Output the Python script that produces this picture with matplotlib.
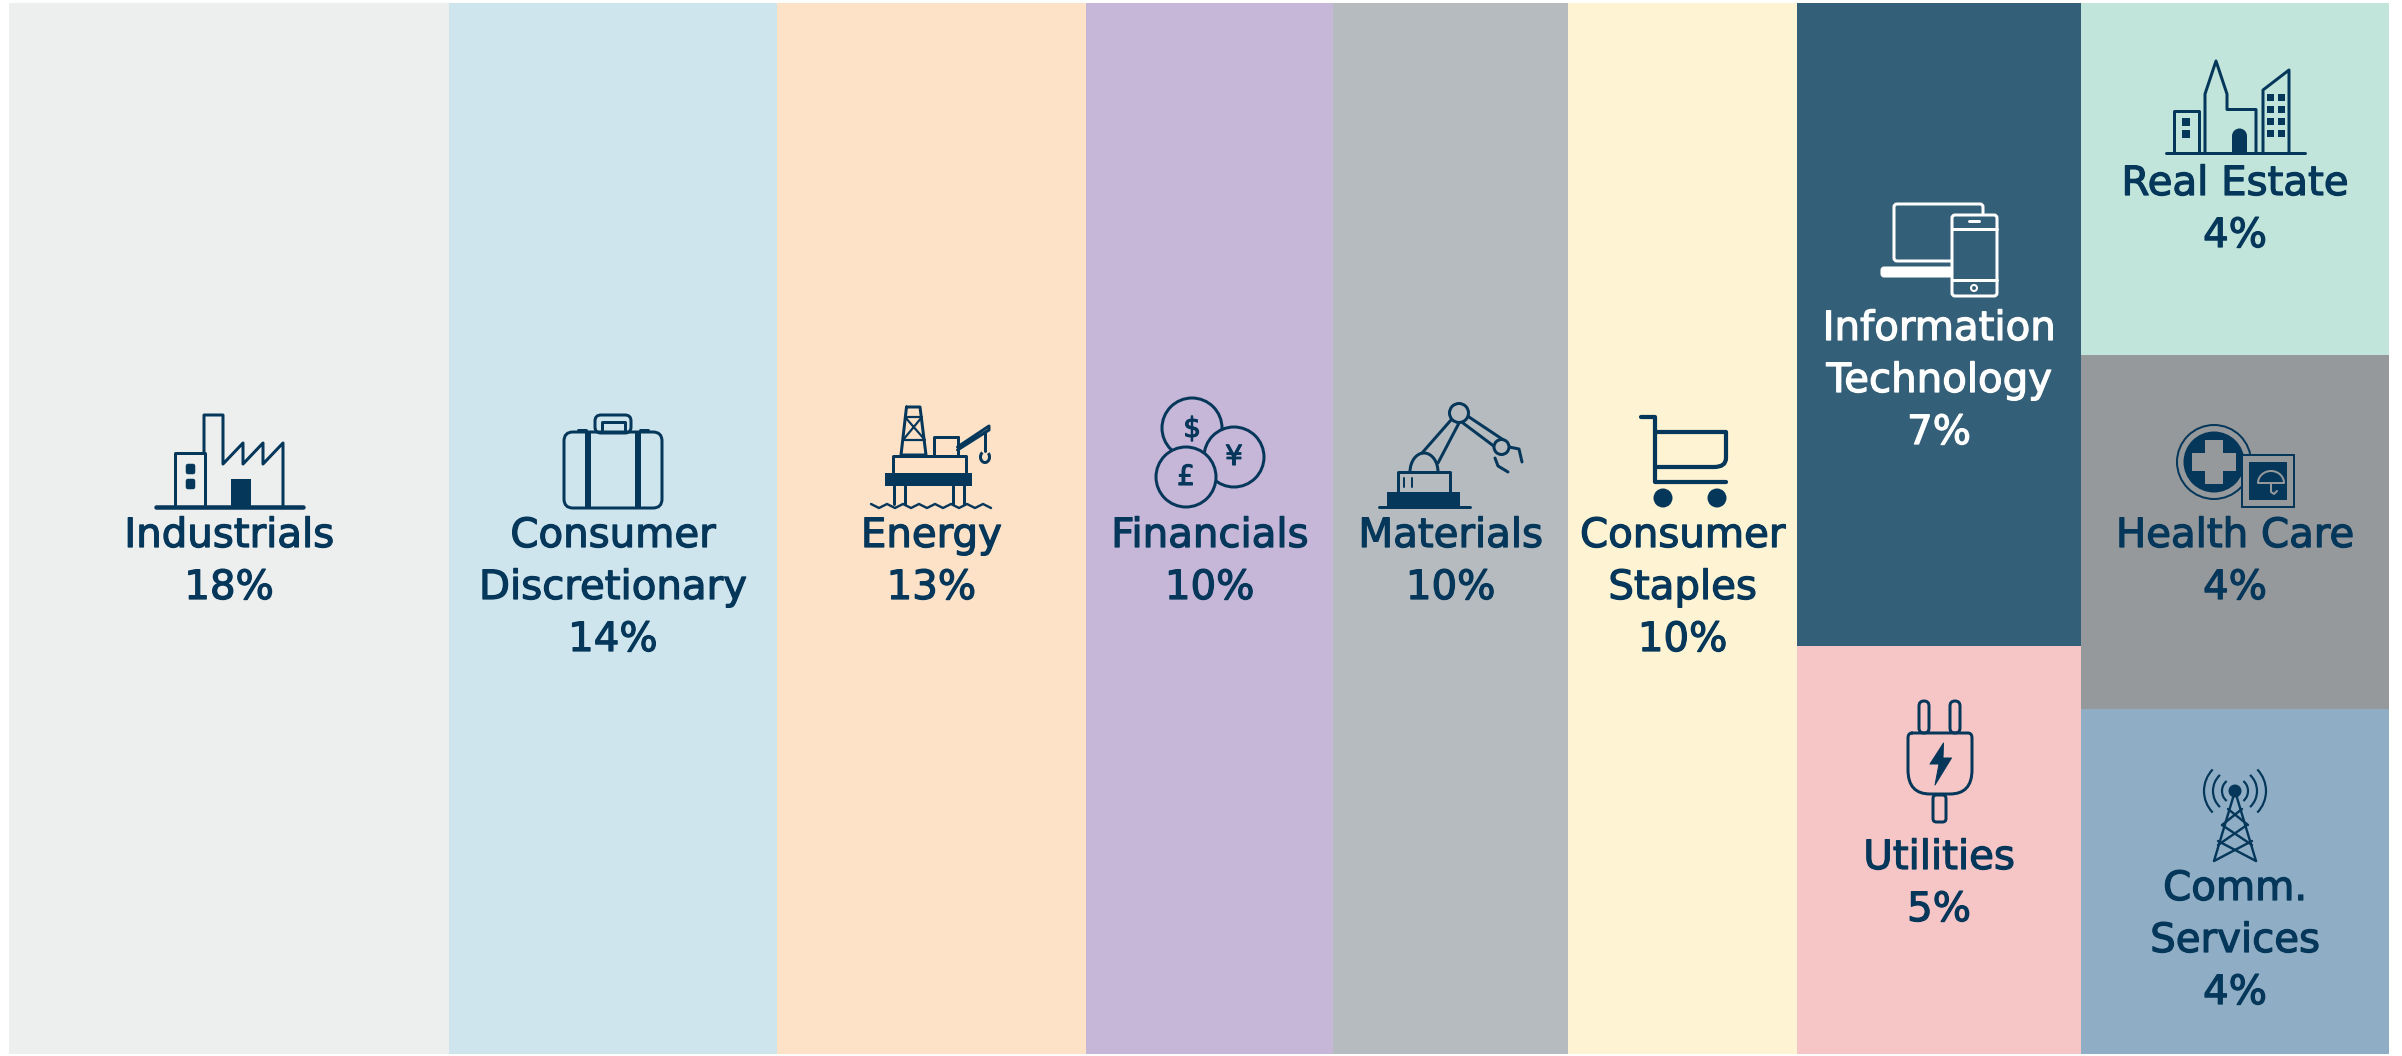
import numpy as np
import matplotlib
matplotlib.use("Agg")
import matplotlib.pyplot as plt
import matplotlib.patheffects as pe
from matplotlib.patches import Arc, Circle, FancyBboxPatch, PathPatch, Polygon, Rectangle
from matplotlib.path import Path

# Sector weights in percent, grouped into the columns of the treemap
sectors = ["Industrials", "Consumer\nDiscretionary", "Energy", "Financials", "Materials",
           "Consumer\nStaples", "Information\nTechnology", "Utilities", "Real Estate",
           "Health Care", "Comm.\nServices"]
weights = [18.49, 13.76, 13.00, 10.38, 9.87, 9.62, 7.30, 4.63, 4.34, 4.35, 4.25]
column_of = [0, 1, 2, 3, 4, 5, 6, 6, 7, 7, 7]
fills = ["#EDEEEE", "#CFE5EE", "#FDE2C8", "#C6B7D9", "#B5BBBE", "#FEF3D3",
         "#345F78", "#F6C6C7", "#C1E5DB", "#96999C", "#8FAEC5"]
first_baselines = [547, 547, 547, 547, 547, 547, 340, 869, 195, 547, 900]

NAVY = "#05375A"
W, H = 2402, 1056
LINE_STEP = 52

plt.rcParams["font.family"] = ["DejaVu Sans"]
fig = plt.figure(figsize=(W / 100, H / 100), dpi=100, facecolor="white")

# Treemap cells, laid out from the weights
ax = fig.add_axes([9 / W, 1 - 1054 / H, 2380 / W, 1051 / H])
ax.set_xlim(0, sum(weights))
ax.set_ylim(1, 0)
ax.axis("off")

weights_arr = np.array(weights)
columns = np.array(column_of)
column_left = 0.0
centres = []
for col in range(columns.max() + 1):
    members = np.flatnonzero(columns == col)
    col_width = weights_arr[members].sum()
    top = 0.0
    for i in members:
        share = weights_arr[i] / col_width
        ax.bar(column_left, share, width=col_width, bottom=top, align="edge",
               color=fills[i], linewidth=0)
        centres.append(column_left + col_width / 2)
        top += share
    column_left += col_width

# Overlay in pixel units for the labels and pictograms
ov = fig.add_axes([0, 0, 1, 1])
ov.set_xlim(0, W)
ov.set_ylim(H, 0)
ov.axis("off")
ov.patch.set_alpha(0)


def px(points):
    return points * 0.72


def line(xs, ys, lw=3, c=NAVY, cap="round", z=3):
    ov.plot(xs, ys, color=c, lw=px(lw), solid_capstyle=cap, solid_joinstyle="round", zorder=z)


def box(x0, y0, x1, y1, c=NAVY, z=3):
    ov.add_patch(Rectangle((x0, y0), x1 - x0, y1 - y0, fc=c, ec="none", zorder=z))


def rbox(x0, y0, x1, y1, r=4, fc="none", ec=NAVY, lw=3, z=3):
    ov.add_patch(FancyBboxPatch((x0 + r, y0 + r), x1 - x0 - 2 * r, y1 - y0 - 2 * r,
                                boxstyle=f"round,pad={r},rounding_size={r}",
                                fc=fc, ec=ec, lw=px(lw), zorder=z))


def disc(x, y, r, fc=NAVY, ec="none", lw=3, z=3):
    ov.add_patch(Circle((x, y), r, fc=fc, ec=ec, lw=px(lw), zorder=z))


def arc(x, y, w, h, t0, t1, c=NAVY, lw=3, z=3):
    ov.add_patch(Arc((x, y), w, h, theta1=t0, theta2=t1, color=c, lw=px(lw), zorder=z))


def curve(verts, codes, lw=3, z=3):
    ov.add_patch(PathPatch(Path(verts, codes), fc="none", ec=NAVY, lw=px(lw),
                           capstyle="round", joinstyle="round", zorder=z))


def factory():
    line([156, 303], [507, 507], lw=4.5)
    line([175, 175, 205, 205], [507, 453, 453, 507])
    line([204, 204, 223, 223, 243, 243, 263, 263, 283, 283],
         [453, 415, 415, 464, 443, 464, 443, 464, 443, 507])
    box(231, 479, 251, 507)
    rbox(186, 464, 195, 474, r=2, fc=NAVY, lw=0.5)
    rbox(186, 479, 195, 489, r=2, fc=NAVY, lw=0.5)


def briefcase():
    rbox(564, 432, 662, 508, r=9)
    box(585, 431, 591, 508)
    box(635, 431, 641, 508)
    rbox(595, 415, 631, 433, r=6)
    line([602, 602, 625, 625], [432, 422, 422, 432])
    line([578, 586], [430, 430], lw=3)
    line([640, 648], [430, 430], lw=3)


def oil_rig():
    line([906.5, 901, 926, 920, 906.5], [407, 455, 455, 407, 407])
    line([905, 925, 903, 922, 906], [417, 440, 440, 417, 417], lw=2.2)
    line([893, 893, 966, 966], [472, 456, 456, 472])
    box(885, 473, 972, 486)
    for x in (894, 905, 953, 964):
        line([x, x], [486, 504])
    waves_x = np.arange(871, 994, 8)
    waves_y = np.where(np.arange(waves_x.size) % 2 == 0, 504, 508)
    line(waves_x, waves_y, lw=2.4)
    line([934, 934, 957.5], [455, 437, 437])
    line([957.5, 957.5], [437, 455])
    line([957.5, 989, 989, 957.5], [447, 426, 430, 450])
    line([985, 985], [432, 451])
    arc(985, 457, 9, 11, -50, 240)


def coins():
    bg = fills[3]
    disc(1192, 428, 30, fc=bg, ec=NAVY)
    disc(1234, 457, 30, fc=bg, ec=NAVY, z=4)
    disc(1186, 477, 30, fc=bg, ec=NAVY, z=5)
    for x, y, sym, z in ((1192, 429, "$", 4), (1234, 457, "¥", 5), (1186, 477, "£", 6)):
        ov.text(x, y, sym, color=NAVY, fontsize=20, ha="center", va="center", zorder=z,
                path_effects=[pe.withStroke(linewidth=0.8, foreground=NAVY)])


def robot_arm():
    box(1387, 492, 1460, 507)
    line([1379, 1470], [507, 507], lw=3)
    line([1398, 1398, 1450, 1450], [492, 472, 472, 492])
    line([1404, 1404], [478, 487], lw=2)
    line([1412, 1412], [478, 487], lw=2)
    arc(1424, 472, 28, 38, 180, 360)
    line([1422, 1451], [453, 420])
    line([1438, 1459], [463, 423])
    disc(1459, 413, 9.5, fc=fills[4], ec=NAVY, z=4)
    line([1466, 1505], [415, 441])
    line([1463, 1495], [423, 447])
    disc(1501.5, 447, 7.5, fc=fills[4], ec=NAVY, z=4)
    line([1509, 1519, 1522], [447, 449, 462])
    line([1495, 1498, 1508], [458, 466, 472])


def cart():
    line([1641, 1655, 1655, 1726], [417, 417, 482, 482], lw=4.2)
    curve([(1655, 432), (1726, 432), (1726, 458), (1726, 467), (1714, 467), (1655, 467)],
          [Path.MOVETO, Path.LINETO, Path.LINETO, Path.CURVE3, Path.CURVE3, Path.LINETO], lw=4.2)
    disc(1663, 498, 9.5)
    disc(1717, 498, 9.5)


def devices():
    white = "#FFFFFF"
    rbox(1894, 204, 1983, 261, r=3, ec=white)
    rbox(1881, 267, 1953, 277, r=3, fc=white, ec=white, lw=1)
    rbox(1952, 215, 1997, 296, r=3, fc=fills[6], ec=white, z=4)
    line([1952, 1997], [228.5, 228.5], c=white, z=5)
    line([1952, 1997], [280, 280], c=white, z=5)
    line([1969, 1979], [221, 221], c=white, z=5)
    disc(1974, 288, 3, fc=fills[6], ec=white, lw=2, z=5)


def skyline():
    line([2166, 2305], [153, 153], lw=3)
    line([2174, 2174, 2199, 2199], [153, 111, 111, 153])
    for y0 in (118, 130):
        box(2182, y0, 2190, y0 + 8)
    line([2205, 2205, 2216, 2227, 2227, 2256, 2256], [153, 94, 61, 94, 109.5, 109.5, 153])
    box(2232, 136, 2247, 153)
    disc(2239.5, 136, 7.5)
    line([2263, 2263, 2289, 2289], [153, 90, 70, 153])
    for y0 in (94, 106, 118, 130):
        box(2267, y0, 2274, y0 + 7)
        box(2278, y0, 2285, y0 + 7)


def medical():
    bg = fills[9]
    disc(2214, 462, 37, fc="none", ec=NAVY, lw=2)
    disc(2214, 462, 30.5)
    box(2205, 440, 2223, 484, c=bg, z=4)
    box(2192, 453, 2236, 471, c=bg, z=4)
    ov.add_patch(Rectangle((2242, 455), 52, 52, fc=bg, ec=NAVY, lw=px(2), zorder=5))
    box(2249, 462, 2287, 500, z=6)
    arc(2271, 483, 26, 24, 180, 360, c=bg, lw=2, z=7)
    line([2258, 2284], [483, 483], lw=2, c=bg, z=7)
    line([2271, 2271, 2274, 2277], [483, 492, 494, 491], lw=2, c=bg, z=7)


def plug():
    rbox(1919, 701, 1929, 733, r=5)
    rbox(1950, 701, 1960, 733, r=5)
    curve([(1912, 733), (1968, 733), (1972, 733), (1972, 738), (1972, 770), (1972, 794), (1950, 794),
           (1930, 794), (1908, 794), (1908, 770), (1908, 738), (1908, 733), (1912, 733)],
          [Path.MOVETO, Path.LINETO, Path.CURVE3, Path.CURVE3, Path.LINETO, Path.CURVE3, Path.CURVE3,
           Path.LINETO, Path.CURVE3, Path.CURVE3, Path.LINETO, Path.CURVE3, Path.CURVE3])
    rbox(1933, 795, 1946, 822, r=3.5)
    ov.add_patch(Polygon([(1943.5, 743), (1930, 764), (1939, 764), (1935, 785),
                          (1951.5, 758), (1943, 758)], closed=True, fc=NAVY, ec=NAVY,
                         lw=px(1), joinstyle="round", zorder=3))


def antenna():
    cx, cy = 2235, 791
    disc(cx, cy, 6.5)
    line([cx, 2214], [cy, 861], lw=2.4)
    line([cx, 2256], [cy, 861], lw=2.4)
    line([2228, 2248], [809, 825], lw=2.4)
    line([2242, 2222], [809, 825], lw=2.4)
    line([2222, 2252], [825, 845], lw=2.4)
    line([2247, 2218], [825, 845], lw=2.4)
    line([2218, 2256], [841, 861], lw=2.4)
    line([2252, 2214], [841, 861], lw=2.4)
    for r, half in ((13, 50), (22, 47), (31, 44)):
        arc(cx, cy, 2 * r, 2 * r, -half, half, lw=2.2)
        arc(cx, cy, 2 * r, 2 * r, 180 - half, 180 + half, lw=2.2)


for icon in (factory, briefcase, oil_rig, coins, robot_arm, cart, devices, skyline, medical, plug, antenna):
    icon()

# Sector names and percentages, centred in each cell
left_px, unit_px = 9, 2380 / sum(weights)
for i, (name, value, base) in enumerate(zip(sectors, weights, first_baselines)):
    colour = "#FFFFFF" if name.startswith("Information") else NAVY
    rows = name.split("\n") + [f"{value:.0f}%"]
    for k, row in enumerate(rows):
        ov.text(left_px + centres[i] * unit_px, base + k * LINE_STEP, row, color=colour,
                fontsize=29, ha="center", va="baseline", zorder=8,
                path_effects=[pe.withStroke(linewidth=0.9, foreground=colour)])

fig.savefig("out.png", dpi=100, facecolor="white")
